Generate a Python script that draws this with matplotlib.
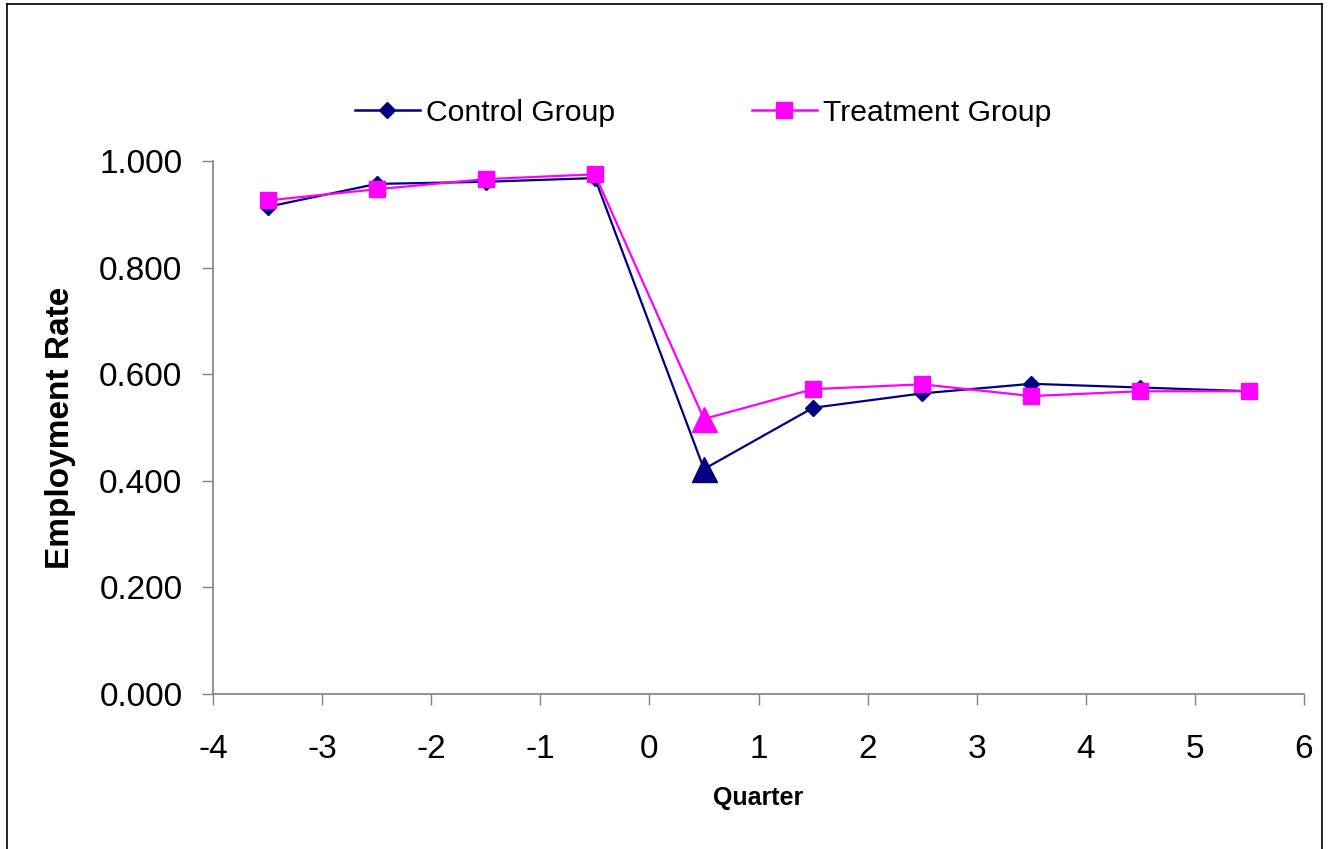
import matplotlib
matplotlib.use("Agg")
import matplotlib.pyplot as plt
from matplotlib.lines import Line2D
from matplotlib.ticker import FormatStrFormatter

quarters = [-3.5, -2.5, -1.5, -0.5, 0.5, 1.5, 2.5, 3.5, 4.5, 5.5]
control = [0.914, 0.957, 0.961, 0.968, 0.422, 0.537, 0.564, 0.582, 0.575, 0.568]
treatment = [0.926, 0.947, 0.966, 0.975, 0.516, 0.572, 0.581, 0.559, 0.568, 0.568]
series_names = ["Control Group", "Treatment Group"]
x_ticks = [-4, -3, -2, -1, 0, 1, 2, 3, 4, 5, 6]
y_ticks = [0.0, 0.2, 0.4, 0.6, 0.8, 1.0]

plt.rcParams['font.family'] = ['Liberation Sans', 'DejaVu Sans']
plt.rcParams['axes.unicode_minus'] = False

W, H = 1328, 849
fig = plt.figure(figsize=(W / 100, H / 100), dpi=100)
ax = fig.add_axes([213 / W, 1 - 694 / H, (1304 - 213) / W, (694 - 161) / H])

navy = '#000080'
mag = '#FF00FF'
tri_idx = 4
others = [i for i in range(len(quarters)) if i != tri_idx]

ax.plot(quarters, control, color=navy, lw=1.6, marker='D', ms=8, markevery=others, zorder=3)
ax.plot([quarters[tri_idx]], [control[tri_idx]], ls='none', marker='^', ms=18, color=navy, zorder=3)
ax.plot(quarters, treatment, color=mag, lw=1.6, marker='s', ms=11.5, markevery=others, zorder=4)
ax.plot([quarters[tri_idx]], [treatment[tri_idx]], ls='none', marker='^', ms=18, color=mag, zorder=4)

ax.set_xlim(-4, 6)
ax.set_ylim(0, 1.0)
ax.set_xticks(x_ticks)
ax.set_yticks(y_ticks)
ax.yaxis.set_major_formatter(FormatStrFormatter('%.3f'))
for s in ['top', 'right']:
    ax.spines[s].set_visible(False)
for s in ['left', 'bottom']:
    ax.spines[s].set_color('#808080')
    ax.spines[s].set_linewidth(1.2)
ax.tick_params(axis='both', direction='out', length=8, width=1, color='#808080', labelsize=24)
ax.tick_params(axis='y', pad=14)
ax.tick_params(axis='x', pad=21)

ax.set_ylabel('Employment Rate', fontsize=24, fontweight='bold')
ax.yaxis.set_label_coords((60 - 213) / (1304 - 213), (694 - 428) / (694 - 161))
ax.set_xlabel('Quarter', fontsize=18, fontweight='bold')
ax.xaxis.set_label_coords((758 - 213) / (1304 - 213), (694 - 798) / (694 - 161))
ax.xaxis.label.set_va('center')
ax.yaxis.label.set_va('center')

handles = [
    Line2D([], [], color=navy, lw=1.8, marker='D', ms=8),
    Line2D([], [], color=mag, lw=1.8, marker='s', ms=11.5),
]
fig.legend(handles, series_names, ncol=2, loc='center left', frameon=False,
           bbox_to_anchor=(355 / W, 1 - 113 / H), fontsize=21.7,
           borderpad=0, borderaxespad=0,
           handlelength=2.15, handletextpad=0.2, columnspacing=4.55)

# figure border
bx0, bx1, by1 = 7 / W, 1322 / W, 1 - 4 / H
for xs, ys in [([bx0, bx0], [0, by1]), ([bx0, bx1], [by1, by1]), ([bx1, bx1], [0, by1])]:
    fig.add_artist(Line2D(xs, ys, transform=fig.transFigure, color='black', lw=1.2))

fig.savefig('out.png', dpi=100)
